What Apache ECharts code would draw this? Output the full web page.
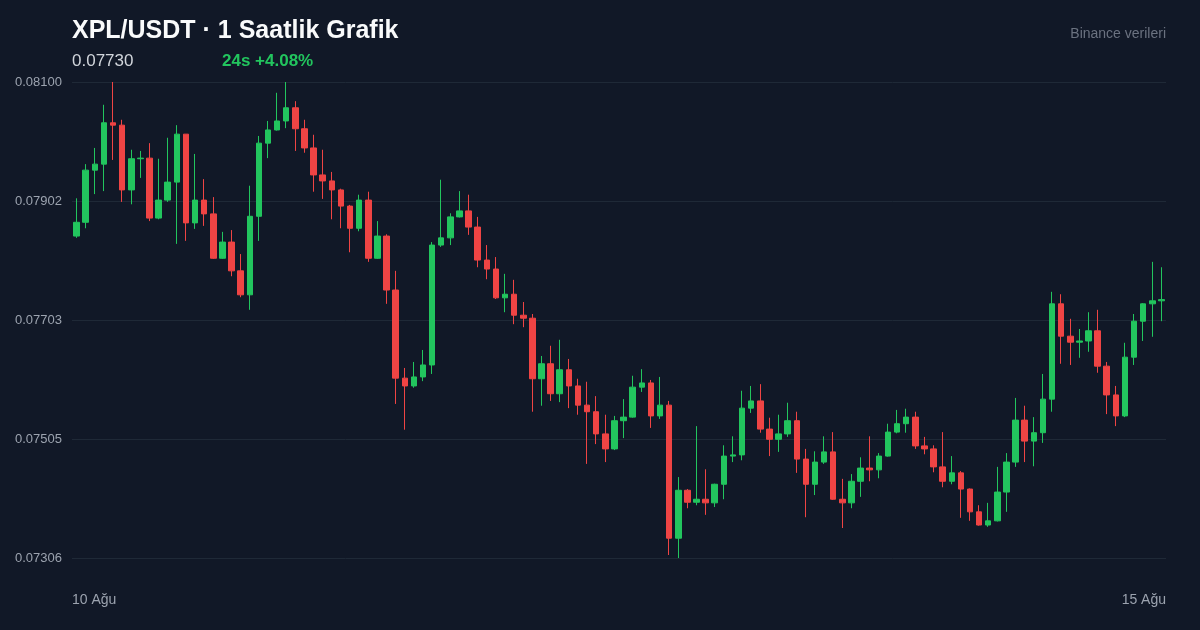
<!DOCTYPE html>
<html style="height: 100%">
<head>
    <meta charset="utf-8">
</head>
<body style="height: 100%; margin: 0; background: #111827">
<div id="kline" style="height: 100%"></div>
<script src="https://cdn.jsdelivr.net/npm/echarts@6/dist/echarts.min.js"></script>
<script type="text/javascript">
    // 1 saatlik mumlar: açılış / kapanış / en düşük / en yüksek
    var opens = [
        0.07843,0.07866,0.07953,0.07963,0.08032,0.08028,0.07920,0.07972,0.07973,0.07873,
        0.07903,0.07933,0.08013,0.07865,0.07903,0.07880,0.07806,0.07833,0.07785,0.07745,
        0.07876,0.07998,0.08020,0.08035,0.08057,0.08022,0.07990,0.07945,0.07935,0.07920,
        0.07893,0.07856,0.07903,0.07806,0.07843,0.07753,0.07606,0.07593,0.07608,0.07628,
        0.07828,0.07840,0.07875,0.07885,0.07858,0.07803,0.07788,0.07740,0.07746,0.07711,
        0.07706,0.07605,0.07630,0.07580,0.07620,0.07593,0.07561,0.07550,0.07513,0.07488,
        0.07535,0.07541,0.07591,0.07598,0.07543,0.07561,0.07339,0.07419,0.07399,0.07404,
        0.07398,0.07429,0.07476,0.07478,0.07556,0.07568,0.07521,0.07504,0.07513,0.07535,
        0.07471,0.07429,0.07466,0.07483,0.07404,0.07398,0.07434,0.07456,0.07453,0.07476,
        0.07516,0.07530,0.07541,0.07493,0.07488,0.07458,0.07434,0.07448,0.07421,0.07383,
        0.07361,0.07368,0.07416,0.07466,0.07536,0.07501,0.07515,0.07571,0.07730,0.07676,
        0.07666,0.07668,0.07685,0.07626,0.07578,0.07543,0.07641,0.07701,0.07730,0.07735
    ];
    var closes = [
        0.07866,0.07953,0.07963,0.08032,0.08028,0.07920,0.07972,0.07973,0.07873,0.07903,
        0.07933,0.08013,0.07865,0.07903,0.07880,0.07806,0.07833,0.07785,0.07745,0.07876,
        0.07998,0.08020,0.08035,0.08057,0.08022,0.07990,0.07945,0.07935,0.07920,0.07893,
        0.07856,0.07903,0.07806,0.07843,0.07753,0.07606,0.07593,0.07608,0.07628,0.07828,
        0.07840,0.07875,0.07885,0.07858,0.07803,0.07788,0.07740,0.07746,0.07711,0.07706,
        0.07605,0.07630,0.07580,0.07620,0.07593,0.07561,0.07550,0.07513,0.07488,0.07535,
        0.07541,0.07591,0.07598,0.07543,0.07561,0.07339,0.07419,0.07399,0.07404,0.07398,
        0.07429,0.07476,0.07478,0.07556,0.07568,0.07521,0.07504,0.07513,0.07535,0.07471,
        0.07429,0.07466,0.07483,0.07404,0.07398,0.07434,0.07456,0.07453,0.07476,0.07516,
        0.07530,0.07541,0.07493,0.07488,0.07458,0.07434,0.07448,0.07421,0.07383,0.07361,
        0.07368,0.07416,0.07466,0.07536,0.07501,0.07515,0.07571,0.07730,0.07676,0.07666,
        0.07668,0.07685,0.07626,0.07578,0.07543,0.07641,0.07701,0.07730,0.07735,0.07737
    ];
    var lows = [
        0.07840,0.07856,0.07913,0.07918,0.07970,0.07900,0.07896,0.07940,0.07868,0.07871,
        0.07900,0.07830,0.07835,0.07855,0.07860,0.07805,0.07805,0.07776,0.07741,0.07720,
        0.07835,0.07973,0.08019,0.08023,0.07985,0.07982,0.07917,0.07905,0.07871,0.07856,
        0.07816,0.07851,0.07800,0.07805,0.07730,0.07563,0.07520,0.07590,0.07601,0.07613,
        0.07825,0.07828,0.07874,0.07845,0.07791,0.07771,0.07738,0.07716,0.07696,0.07691,
        0.07550,0.07560,0.07568,0.07566,0.07556,0.07545,0.07463,0.07496,0.07466,0.07486,
        0.07506,0.07540,0.07583,0.07523,0.07538,0.07311,0.07306,0.07389,0.07394,0.07378,
        0.07391,0.07404,0.07466,0.07469,0.07548,0.07515,0.07476,0.07483,0.07508,0.07448,
        0.07374,0.07411,0.07463,0.07403,0.07356,0.07389,0.07408,0.07434,0.07439,0.07475,
        0.07514,0.07515,0.07488,0.07479,0.07449,0.07424,0.07429,0.07373,0.07368,0.07360,
        0.07358,0.07367,0.07383,0.07458,0.07466,0.07459,0.07498,0.07550,0.07630,0.07628,
        0.07640,0.07650,0.07615,0.07546,0.07526,0.07541,0.07628,0.07668,0.07675,0.07701
    ];
    var highs = [
        0.07906,0.07963,0.07990,0.08062,0.08100,0.08037,0.07987,0.07985,0.07998,0.07972,
        0.08007,0.08028,0.08013,0.07980,0.07938,0.07908,0.07850,0.07853,0.07813,0.07927,
        0.08010,0.08035,0.08082,0.08100,0.08068,0.08037,0.08012,0.07987,0.07950,0.07922,
        0.07895,0.07912,0.07917,0.07868,0.07846,0.07785,0.07623,0.07633,0.07653,0.07833,
        0.07937,0.07881,0.07918,0.07912,0.07875,0.07828,0.07808,0.07780,0.07770,0.07733,
        0.07713,0.07643,0.07660,0.07670,0.07638,0.07605,0.07600,0.07576,0.07545,0.07543,
        0.07571,0.07610,0.07621,0.07603,0.07608,0.07568,0.07441,0.07421,0.07526,0.07454,
        0.07430,0.07494,0.07509,0.07585,0.07593,0.07596,0.07540,0.07545,0.07565,0.07550,
        0.07488,0.07484,0.07509,0.07516,0.07438,0.07446,0.07474,0.07509,0.07481,0.07530,
        0.07553,0.07555,0.07550,0.07508,0.07494,0.07516,0.07476,0.07451,0.07422,0.07394,
        0.07398,0.07458,0.07481,0.07573,0.07560,0.07541,0.07613,0.07750,0.07746,0.07705,
        0.07688,0.07716,0.07720,0.07633,0.07593,0.07665,0.07713,0.07731,0.07800,0.07791
    ];

    // fiyat ekseni
    var yMin = 0.07306;
    var yMax = 0.08100;
    var yStep = 0.001985;

    // saat etiketleri (10 Ağu 12:00'dan başlıyor)
    var days = ['10 Ağu', '11 Ağu', '12 Ağu', '13 Ağu', '14 Ağu', '15 Ağu'];
    var startHour = 12;
    var hours = [];
    for (var i = 0; i < closes.length; i++) {
        var h = startHour + i;
        var hh = h % 24;
        hours.push(days[Math.floor(h / 24)] + ' ' + (hh < 10 ? '0' : '') + hh + ':00');
    }

    var candles = [];
    for (var j = 0; j < closes.length; j++) {
        candles.push([opens[j], closes[j], lows[j], highs[j]]);
    }

    var up = '#22c55e';
    var down = '#ef4444';

    var myChart = echarts.init(document.getElementById('kline'));
    var option = {
        backgroundColor: '#111827',
        animation: false,
        title: [{
            text: 'XPL/USDT · 1 Saatlik Grafik',
            left: 72,
            top: 19,
            padding: 0,
            textStyle: {color: '#f9fafb', fontSize: 25, fontWeight: 'bold', fontFamily: 'Liberation Sans'}
        }, {
            text: '0.07730',
            left: 72,
            top: 53,
            padding: 0,
            textStyle: {color: '#d1d5db', fontSize: 17, fontWeight: 'normal', fontFamily: 'Liberation Sans'}
        }, {
            text: '24s +4.08%',
            left: 222,
            top: 53,
            padding: 0,
            textStyle: {color: up, fontSize: 17, fontWeight: 'bold', fontFamily: 'Liberation Sans'}
        }, {
            text: 'Binance verileri',
            right: 34,
            top: 27,
            padding: 0,
            textStyle: {color: '#6b7280', fontSize: 14, fontWeight: 'normal', fontFamily: 'Liberation Sans'}
        }],
        grid: {
            left: 72,
            right: 34,
            top: 82,
            bottom: 72
        },
        xAxis: [{
            // mumların ekseni
            type: 'category',
            data: hours,
            boundaryGap: true,
            axisLine: {show: false},
            axisTick: {show: false},
            splitLine: {show: false},
            axisLabel: {show: false}
        }, {
            // sadece uç tarih etiketleri
            type: 'category',
            data: hours,
            position: 'bottom',
            boundaryGap: false,
            axisLine: {show: false},
            axisTick: {show: false},
            splitLine: {show: false},
            axisLabel: {
                color: '#9ca3af',
                fontSize: 14,
                fontFamily: 'Liberation Sans',
                margin: 35,
                interval: function (idx) {
                    return idx === 0 || idx === hours.length - 1;
                },
                alignMinLabel: 'left',
                alignMaxLabel: 'right',
                formatter: function (v) {
                    return v.split(' ').slice(0, 2).join(' ');
                }
            }
        }],
        yAxis: {
            type: 'value',
            min: yMin,
            max: yMax,
            interval: yStep,
            axisLine: {show: false},
            axisTick: {show: false},
            splitLine: {lineStyle: {color: '#1f2937', width: 1}},
            axisLabel: {
                color: '#9ca3af',
                fontSize: 13,
                fontFamily: 'Liberation Sans',
                margin: 10,
                formatter: function (v) {
                    return (v + 1e-9).toFixed(5);
                }
            }
        },
        series: [{
            name: 'XPL/USDT',
            type: 'candlestick',
            xAxisIndex: 0,
            data: candles,
            barWidth: 6,
            itemStyle: {
                color: up,
                color0: down,
                borderColor: up,
                borderColor0: down,
                borderWidth: 1
            }
        }]
    };
    myChart.setOption(option);
    window.addEventListener('resize', function () {
        myChart.resize();
    });
</script>
</body>
</html>
